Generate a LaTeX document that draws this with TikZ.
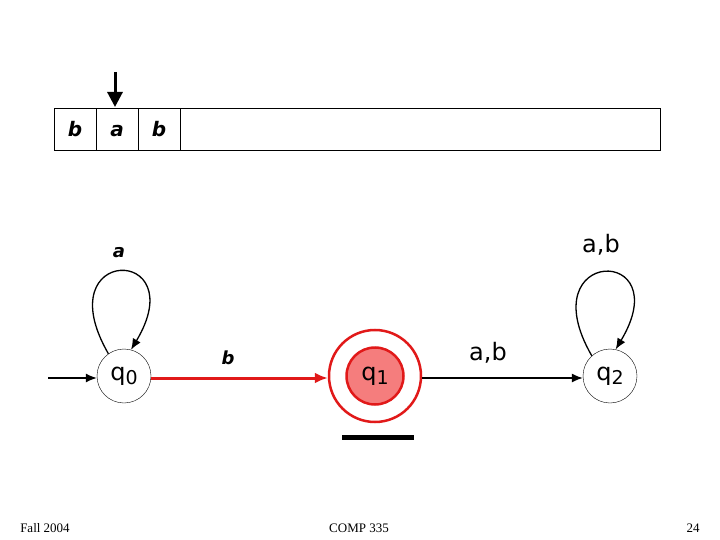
\documentclass[tikz,border=0pt]{standalone}
\usepackage{fontspec}
\setmainfont{Liberation Serif}
\newfontfamily\lbl{DejaVu Sans}
\usetikzlibrary{arrows.meta}
\definecolor{sred}{RGB}{225,25,25}
\definecolor{sfill}{RGB}{245,125,125}
\tikzset{
  x=1pt,y=-1pt,
  state/.style={circle,draw,thin,minimum size=54pt,inner sep=0pt,font=\lbl\fontsize{24}{24}\selectfont},
  acc/.style={circle,draw=sred,line width=2.5pt,fill=sfill,minimum size=57pt,inner sep=0pt,font=\lbl\fontsize{24}{24}\selectfont},
  tapecell/.style={draw,thin,minimum width=42pt,minimum height=42pt,inner sep=0pt,text height=15pt,text depth=0pt,font=\lbl\itshape\bfseries\fontsize{20}{20}\selectfont},
  edge/.style={line width=1.3pt,-{Latex[length=11pt,width=9pt]}},
  elab/.style={font=\lbl\fontsize{24}{24}\selectfont},
  slab/.style={font=\lbl\itshape\bfseries\fontsize{18}{18}\selectfont},
  foot/.style={font=\fontsize{13}{13}\selectfont}
}
\newcommand{\qs}[1]{q\raisebox{-0.3ex}{\fontsize{19}{19}\selectfont #1}}
\begin{document}
\begin{tikzpicture}
\useasboundingbox (0,0) rectangle (720,540);
% tape
\node[draw,thin,minimum width=606pt,minimum height=42pt,inner sep=0pt] (tape) at (357,129) {};
\node[tapecell] (c1) at (75,129) {b};
\node[tapecell] (c2) at (117,129) {a};
\node[tapecell] (c3) at (159,129) {b};
\coordinate (head) at (115,72);
\draw[line width=3pt,-{Triangle[length=15pt,width=15pt]}] (head) -- (115,107);
% states
\node[state] (q0) at (124,376) {\qs{0}};
\node[circle,draw=sred,line width=2.5pt,minimum size=92pt,inner sep=0pt] (q1o) at (375,376) {};
\node[acc] (q1) at (375,376) {\qs{1}};
\node[state] (q2) at (610,376) {\qs{2}};
% initial
\coordinate (init) at (48,378);
\draw[edge,line width=1.2pt] (init) -- (q0.west |- init);
% edges
\draw[edge,draw=sred,fill=sred,line width=3pt,-{Latex[length=13pt,width=11pt]}] (q0.east |- 0,378) -- (q1o.west |- 0,378);
\node[slab] (lb) at (228,358) {b};
\draw[edge] (q1o.east |- 0,378) -- (q2.west |- 0,378);
\node[elab] (lab) at (488,353) {a,b};
% loops
\draw[edge] (q0.125) .. controls +(-63,-109) and +(63,-105) .. (q0.75);
\node[slab] (la) at (119,253) {a};
\draw[edge] (q2.132) .. controls +(-63,-109) and +(63,-105) .. (q2.78);
\node[elab] (lab2) at (601,245) {a,b};
% bar
\fill (342,435) rectangle (414,440);
% footer
\node[foot] (f1) at (45,528) {Fall 2004};
\node[foot] (f2) at (359,528) {COMP 335};
\node[foot] (f3) at (693,528) {24};
\end{tikzpicture}
\end{document}
